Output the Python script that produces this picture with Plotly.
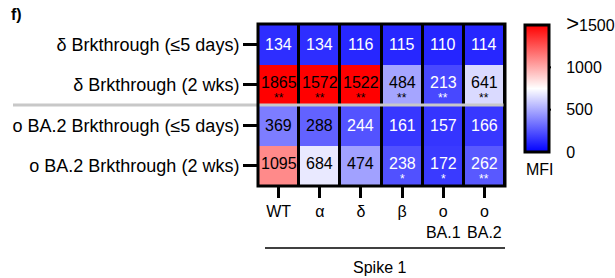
import plotly.graph_objects as go

row_labels = ["δ Brkthrough (≤5 days)", "δ Brkthrough (2 wks)",
              "o BA.2 Brkthrough (≤5 days)", "o BA.2 Brkthrough (2 wks)"]
col_labels = ["WT", "α", "δ", "β", "o<br>BA.1", "o<br>BA.2"]
values = [
    [134, 134, 116, 115, 110, 114],
    [1865, 1572, 1522, 484, 213, 641],
    [369, 288, 244, 161, 157, 166],
    [1095, 684, 474, 238, 172, 262],
]
stars = [
    ["", "", "", "", "", ""],
    ["**", "**", "**", "**", "**", "**"],
    ["", "", "", "", "", ""],
    ["", "", "", "*", "*", "**"],
]
cbar_vals = [0, 500, 1000, 1500]
cbar_text = ["0", "500", "1000", "<span style='font-size:22px'>></span>1500"]
group_title = "Spike 1"
cbar_title = "MFI"
panel_label = "f)"

W, H = 615, 278
L, R, T, B = 258, 110, 24, 92
pw, ph = W - L - R, H - T - B

def px_x(x):
    return (x - L) / pw

def px_y(y):
    return (H - B - y) / ph

FONT = "Liberation Sans, Arial, sans-serif"
CB_L, CB_R, CB_T, CB_B = 525, 552, 25, 152

fig = go.Figure()
fig.add_trace(go.Heatmap(
    z=values, x=list(range(len(col_labels))), y=list(range(len(row_labels))),
    zmin=0, zmax=1500,
    colorscale=[[0, "rgb(0,0,255)"], [0.5, "rgb(255,255,255)"], [1, "rgb(255,0,0)"]],
    xgap=3, ygap=0, hoverinfo="skip",
    colorbar=dict(
        x=px_x(CB_L), xanchor="left", y=px_y(CB_T), yanchor="top",
        lenmode="pixels", len=CB_B - CB_T, thickness=24, thicknessmode="pixels",
        xpad=0, ypad=0, outlinewidth=3, outlinecolor="black",
        tickvals=cbar_vals, ticktext=cbar_text, ticks="outside", ticklen=13,
        tickwidth=1, tickcolor="rgba(0,0,0,0)",
        tickfont=dict(size=16, color="black", family=FONT),
    ),
))

annotations = []
for i, row in enumerate(values):
    for j, v in enumerate(row):
        col = "black" if v > 275 else "white"
        has_star = stars[i][j] != ""
        annotations.append(dict(x=j, y=i, text=str(v), showarrow=False,
                                yshift=2 if (i in (1, 3)) else 0,
                                font=dict(size=16, color=col, family=FONT)))
        if has_star:
            annotations.append(dict(x=j, y=i, text=stars[i][j], showarrow=False,
                                    yshift=-13, font=dict(size=12, color=col, family=FONT)))

annotations.append(dict(xref="paper", yref="paper", x=px_x(379), y=px_y(267),
                        xanchor="center", yanchor="middle",
                        text=group_title, showarrow=False,
                        font=dict(size=16, color="black", family=FONT)))
annotations.append(dict(xref="paper", yref="paper", x=px_x(540), y=px_y(169),
                        xanchor="center", yanchor="middle",
                        text=cbar_title, showarrow=False,
                        font=dict(size=16, color="black", family=FONT)))
annotations.append(dict(xref="paper", yref="paper", x=px_x(9), y=px_y(15),
                        xanchor="left", yanchor="middle",
                        text="<b>" + panel_label + "</b>", showarrow=False,
                        font=dict(size=16, color="black", family=FONT)))

shapes = [
    # group separator line
    dict(type="line", xref="paper", yref="y", x0=px_x(13), x1=1.0, y0=1.5, y1=1.5,
         line=dict(color="#c8c8c8", width=3), layer="above"),
    # heatmap border
    dict(type="rect", xref="paper", yref="paper", x0=0, x1=1, y0=0, y1=1,
         line=dict(color="black", width=3), layer="above"),
    # group bracket line
    dict(type="line", xref="paper", yref="paper", x0=px_x(265), x1=px_x(505),
         y0=px_y(248), y1=px_y(248), line=dict(color="black", width=1.5)),
]
# colorbar tick dashes on both sides
for v in cbar_vals[1:3]:
    ypx = CB_B - v / 1500 * (CB_B - CB_T)
    for xa, xb in ((CB_L + 1, CB_L + 7), (CB_R - 7, CB_R - 1)):
        shapes.append(dict(type="line", xref="paper", yref="paper",
                           x0=px_x(xa), x1=px_x(xb), y0=px_y(ypx), y1=px_y(ypx),
                           line=dict(color="black", width=2)))

fig.update_layout(
    width=W, height=H, margin=dict(l=L, r=R, t=T, b=B, pad=0, autoexpand=False),
    paper_bgcolor="white", plot_bgcolor="black",
    font=dict(family=FONT, color="black"),
    xaxis=dict(tickvals=list(range(len(col_labels))), ticktext=col_labels,
               range=[-0.5, len(col_labels) - 0.5], ticks="outside", ticklen=11,
               tickwidth=3, tickcolor="black", showgrid=False, zeroline=False,
               automargin=False,
               tickfont=dict(size=16, color="black", family=FONT), fixedrange=True),
    yaxis=dict(tickvals=list(range(len(row_labels))), ticktext=row_labels,
               range=[len(row_labels) - 0.5, -0.5], ticks="outside", ticklen=14,
               tickwidth=3, tickcolor="black", showgrid=False, zeroline=False,
               automargin=False,
               tickfont=dict(size=18, color="black", family=FONT), fixedrange=True),
    annotations=annotations, shapes=shapes, showlegend=False,
)

fig.write_html("out.html", config={"displayModeBar": False},
               post_script="document.body.style.margin='0px';")
